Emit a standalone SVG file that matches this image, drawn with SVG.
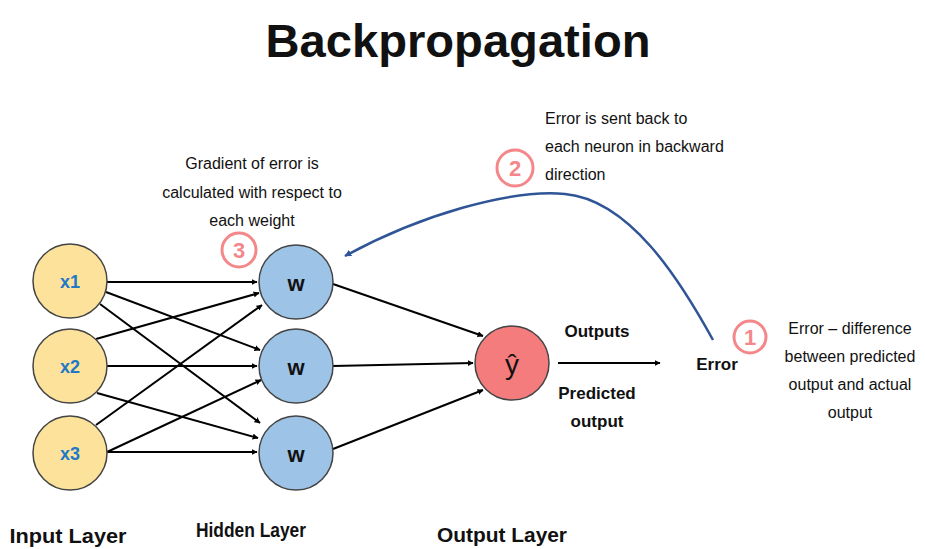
<svg xmlns="http://www.w3.org/2000/svg" width="925" height="549" viewBox="0 0 925 549">
<defs>
<style>
.t{font-family:"Liberation Sans",Arial,sans-serif;fill:#111;}
.ann{font-size:16px;}
.lbl{font-size:20px;font-weight:bold;}
.in{fill:#FCE29A;stroke:#444;stroke-width:1.5;}
.hid{fill:#9DC3E6;stroke:#444;stroke-width:1.5;}
.out{fill:#F47C7C;stroke:#444;stroke-width:1.5;}
.num{fill:#fff;stroke:#F4878A;stroke-width:3;}
.numt{font-family:"Liberation Sans",Arial,sans-serif;font-weight:bold;font-size:22px;fill:#F4878A;text-anchor:middle;}
.edge{stroke:#000;stroke-width:2;fill:none;marker-end:url(#ah);}
</style>
<marker id="ah" viewBox="0 0 10 10" refX="9" refY="5" markerWidth="6" markerHeight="6" markerUnits="userSpaceOnUse" orient="auto">
<path d="M0,0 L10,5 L0,10 z" fill="#000"/>
</marker>
<marker id="ahb" viewBox="0 0 10 10" refX="9" refY="5" markerWidth="7" markerHeight="7" markerUnits="userSpaceOnUse" orient="auto">
<path d="M0,0 L10,5 L0,10 z" fill="#2F5597"/>
</marker>
</defs>
<rect width="925" height="549" fill="#fff"/>
<text class="t" x="458" y="57" font-size="46" font-weight="bold" text-anchor="middle" textLength="385" lengthAdjust="spacingAndGlyphs">Backpropagation</text>

<g id="connectors">
<line class="edge" x1="107" y1="282" x2="257" y2="282"/>
<line class="edge" x1="106" y1="292" x2="260" y2="350"/>
<line class="edge" x1="100" y1="304" x2="260" y2="423"/>
<line class="edge" x1="96" y1="339" x2="259" y2="293"/>
<line class="edge" x1="107" y1="366" x2="257" y2="366"/>
<line class="edge" x1="97" y1="393" x2="258" y2="438"/>
<line class="edge" x1="96" y1="425" x2="262" y2="305"/>
<line class="edge" x1="107" y1="452" x2="261" y2="380"/>
<line class="edge" x1="107" y1="452" x2="257" y2="452"/>
<line class="edge" x1="333" y1="284" x2="483" y2="336"/>
<line class="edge" x1="333" y1="366" x2="473" y2="363"/>
<line class="edge" x1="333" y1="449" x2="483" y2="390"/>
<line class="edge" x1="558" y1="363" x2="660" y2="363"/>
<path d="M713,340 C680,280 630,200 565,194 C510,189 420,215 345,256" fill="none" stroke="#2F5597" stroke-width="2.5" marker-end="url(#ahb)"/>
</g>

<g id="x1"><circle class="in" cx="70" cy="281" r="37"/><text class="t" x="70" y="288" font-size="18" font-weight="bold" style="fill:#1F78C8" text-anchor="middle">x1</text></g>
<g id="x2"><circle class="in" cx="70" cy="366" r="37"/><text class="t" x="70" y="373" font-size="18" font-weight="bold" style="fill:#1F78C8" text-anchor="middle">x2</text></g>
<g id="x3"><circle class="in" cx="70" cy="453" r="37"/><text class="t" x="70" y="460" font-size="18" font-weight="bold" style="fill:#1F78C8" text-anchor="middle">x3</text></g>

<g id="h1"><circle class="hid" cx="296" cy="282" r="37"/><text class="t" x="296" y="291" font-size="22" font-weight="bold" text-anchor="middle">w</text></g>
<g id="h2"><circle class="hid" cx="296" cy="366" r="37"/><text class="t" x="296" y="375" font-size="22" font-weight="bold" text-anchor="middle">w</text></g>
<g id="h3"><circle class="hid" cx="296" cy="453" r="37"/><text class="t" x="296" y="462" font-size="22" font-weight="bold" text-anchor="middle">w</text></g>

<g id="output"><circle class="out" cx="512" cy="363" r="37"/><text class="t" x="512" y="374" font-size="28" text-anchor="middle">ŷ</text></g>

<g id="outputs-label">
<text class="t" x="597" y="337" font-size="17" font-weight="bold" text-anchor="middle">Outputs</text>
<text class="t" x="597" y="399" font-size="17" font-weight="bold" text-anchor="middle">Predicted</text>
<text class="t" x="597" y="427" font-size="17" font-weight="bold" text-anchor="middle">output</text>
</g>

<g id="error"><text class="t" x="717" y="370" font-size="17" font-weight="bold" text-anchor="middle">Error</text></g>

<g id="step1">
<circle class="num" cx="750" cy="337" r="16"/><text class="numt" x="750" y="345">1</text>
<text class="t ann" x="850" y="334" text-anchor="middle">Error – difference</text>
<text class="t ann" x="850" y="362" text-anchor="middle">between predicted</text>
<text class="t ann" x="850" y="390" text-anchor="middle">output and actual</text>
<text class="t ann" x="850" y="418" text-anchor="middle">output</text>
</g>

<g id="step2">
<circle class="num" cx="515" cy="168" r="18"/><text class="numt" x="515" y="176">2</text>
<text class="t ann" x="545" y="124">Error is sent back to</text>
<text class="t ann" x="545" y="152">each neuron in backward</text>
<text class="t ann" x="545" y="180">direction</text>
</g>

<g id="step3">
<circle class="num" cx="239" cy="250" r="17"/><text class="numt" x="239" y="258">3</text>
<text class="t ann" x="252" y="169" text-anchor="middle">Gradient of error is</text>
<text class="t ann" x="252" y="198" text-anchor="middle">calculated with respect to</text>
<text class="t ann" x="252" y="226" text-anchor="middle">each weight</text>
</g>

<g id="layers">
<text class="t lbl" x="68" y="543" text-anchor="middle" textLength="117" lengthAdjust="spacingAndGlyphs">Input Layer</text>
<text class="t lbl" x="251" y="537" text-anchor="middle" textLength="110" lengthAdjust="spacingAndGlyphs">Hidden Layer</text>
<text class="t lbl" x="502" y="542" text-anchor="middle" textLength="130" lengthAdjust="spacingAndGlyphs">Output Layer</text>
</g>
</svg>
